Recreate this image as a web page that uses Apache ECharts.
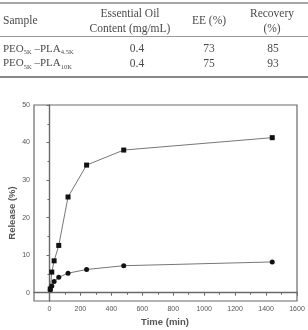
<!DOCTYPE html>
<html>
<head>
<meta charset="utf-8">
<script src="https://cdn.jsdelivr.net/npm/echarts@6/dist/echarts.min.js"></script>
<style>
  html, body { margin: 0; padding: 0; background: #fff; }
  #main { width: 308px; height: 330px; }
</style>
</head>
<body>
<div id="main"></div>
<script>
// 数据
var times = [5, 15, 30, 60, 120, 240, 480, 1440];
var release10K = [1.0, 5.5, 8.5, 12.6, 25.5, 34.0, 38.0, 41.3];
var release45K = [0.8, 1.8, 3.0, 4.1, 5.2, 6.2, 7.2, 8.2];
var xTicks = [0, 200, 400, 600, 800, 1000, 1200, 1400, 1600];
var xMinorTicks = [100, 300, 500, 700, 900, 1100, 1300, 1500];
var yTicks = [0, 10, 20, 30, 40, 50];
var yMinorTicks = [5, 15, 25, 35, 45];

// 表格
var tableHeader = ['Sample', 'Essential Oil\nContent (mg/mL)', 'EE (%)', 'Recovery\n(%)'];
var tableRows = [
  { peo: '5K', pla: '4.5K', content: '0.4', ee: '73', recovery: '85' },
  { peo: '5K', pla: '10K', content: '0.4', ee: '75', recovery: '93' }
];

var chart = echarts.init(document.getElementById('main'));

var serif = '"Liberation Serif", "DejaVu Serif", serif';
var sans = '"Liberation Sans", Arial, sans-serif';
var tColor = '#4a4a4a';
var axisColor = '#6a6a6a';

var colX = [130, 209, 272];
var graphics = [];
// 表格线
graphics.push({ type: 'line', shape: { x1: 0, y1: 3, x2: 308, y2: 3 }, style: { stroke: '#888', lineWidth: 1.5 } });
graphics.push({ type: 'line', shape: { x1: 0, y1: 36.5, x2: 308, y2: 36.5 }, style: { stroke: '#999', lineWidth: 1 } });
graphics.push({ type: 'line', shape: { x1: 0, y1: 77, x2: 308, y2: 77 }, style: { stroke: '#888', lineWidth: 2 } });
// 表头
graphics.push({ type: 'text', x: 3, y: 21, style: { text: tableHeader[0], font: '11.5px ' + serif, fill: tColor, verticalAlign: 'middle' } });
for (var i = 1; i < tableHeader.length; i++) {
  graphics.push({ type: 'text', x: colX[i - 1], y: 21, style: { text: tableHeader[i], font: '11.5px ' + serif, fill: tColor, align: 'center', verticalAlign: 'middle', lineHeight: 15 } });
}
// 表格行
tableRows.forEach(function (r, k) {
  var y = 49 + k * 14.5;
  graphics.push({
    type: 'text', x: 3, y: y,
    style: {
      text: '{n|PEO}{s|' + r.peo + '}{n| –PLA}{s|' + r.pla + '}',
      verticalAlign: 'middle',
      rich: {
        n: { fontSize: 11, fontFamily: serif, fill: tColor, lineHeight: 14 },
        s: { fontSize: 6.5, fontFamily: serif, fill: tColor, lineHeight: 6, verticalAlign: 'bottom' }
      }
    }
  });
  graphics.push({ type: 'text', x: 137, y: y, style: { text: r.content, font: '11.5px ' + serif, fill: tColor, align: 'center', verticalAlign: 'middle' } });
  graphics.push({ type: 'text', x: 209, y: y, style: { text: r.ee, font: '11.5px ' + serif, fill: tColor, align: 'center', verticalAlign: 'middle' } });
  graphics.push({ type: 'text', x: 273, y: y, style: { text: r.recovery, font: '11.5px ' + serif, fill: tColor, align: 'center', verticalAlign: 'middle' } });
});
// 坐标轴标题
graphics.push({ type: 'text', x: 12, y: 213, rotation: Math.PI / 2, style: { text: 'Release (%)', font: 'bold 9.5px ' + sans, fill: '#555', align: 'center', verticalAlign: 'middle' } });
graphics.push({ type: 'text', x: 165, y: 322, style: { text: 'Time (min)', font: 'bold 9.5px ' + sans, fill: '#555', align: 'center', verticalAlign: 'middle' } });

function pairs(xs, ys) {
  return xs.map(function (x, i) { return [x, ys[i]]; });
}

var option = {
  backgroundColor: '#ffffff',
  animation: false,
  grid: { left: 34, right: 11, top: 105, bottom: 29, show: true, borderColor: axisColor, borderWidth: 1.2 },
  xAxis: [
    {
      type: 'value', min: -100, max: 1600,
      axisLine: { lineStyle: { color: axisColor, width: 1.4 } },
      axisTick: { show: true, length: 3, customValues: xTicks, lineStyle: { color: axisColor } },
      axisLabel: { customValues: xTicks, fontSize: 7, color: '#555', fontFamily: sans, margin: 5, formatter: function (v) { return String(v); } },
      splitLine: { show: false }
    },
    {
      type: 'value', min: -100, max: 1600, position: 'bottom',
      axisLine: { show: false },
      axisTick: { show: true, length: 2, customValues: xMinorTicks, lineStyle: { color: axisColor } },
      axisLabel: { show: false },
      splitLine: { show: false }
    }
  ],
  yAxis: [
    {
      type: 'value', min: -2.2, max: 50,
      axisLine: { show: true, lineStyle: { color: axisColor, width: 1.4 } },
      axisTick: { show: true, length: 3, customValues: yTicks, lineStyle: { color: axisColor } },
      axisLabel: { customValues: yTicks, fontSize: 7, color: '#555', fontFamily: sans, margin: 4 },
      splitLine: { show: false }
    },
    {
      type: 'value', min: -2.2, max: 50, position: 'left',
      axisLine: { show: false },
      axisTick: { show: true, length: 2, customValues: yMinorTicks, lineStyle: { color: axisColor } },
      axisLabel: { show: false },
      splitLine: { show: false }
    }
  ],
  series: [
    {
      name: 'PEO5K-PLA10K', type: 'line', data: pairs(times, release10K),
      symbol: 'rect', symbolSize: 5,
      itemStyle: { color: '#111' },
      lineStyle: { color: '#777', width: 1 }
    },
    {
      name: 'PEO5K-PLA4.5K', type: 'line', data: pairs(times, release45K),
      symbol: 'circle', symbolSize: 5,
      itemStyle: { color: '#111' },
      lineStyle: { color: '#777', width: 1 }
    }
  ],
  graphic: graphics
};

chart.setOption(option);
</script>
</body>
</html>
